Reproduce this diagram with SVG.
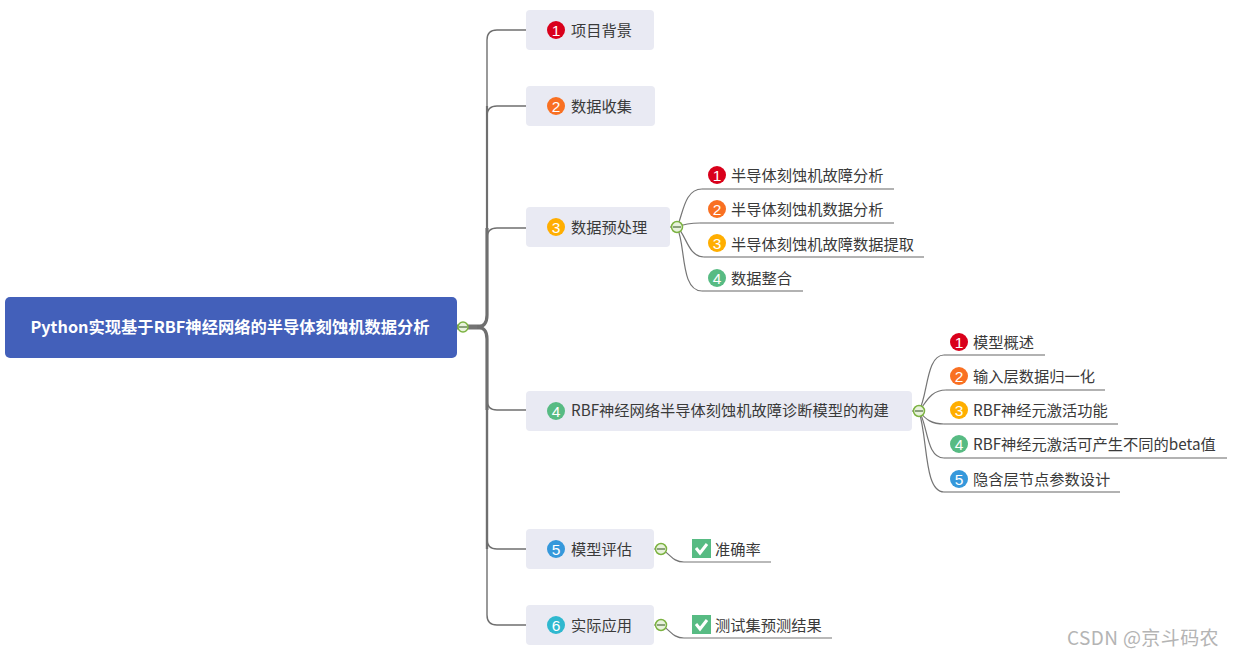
<svg xmlns="http://www.w3.org/2000/svg" width="1234" height="656" viewBox="0 0 1234 656">
<style>
text{font-family:"Noto Sans CJK SC","Noto Sans",sans-serif;font-size:15.25px;fill:#3a3a3a;dominant-baseline:central}
.box{fill:#e9eaf3}
.root{fill:#4360ba}
.rt{fill:#fff;font-weight:700;font-size:16.3px;font-family:"Noto Sans CJK SC","Noto Sans",sans-serif}
.n{fill:#fff;font-family:"Liberation Sans",sans-serif;font-size:15.5px;text-anchor:middle}
.c{fill:none;stroke:#757575;stroke-width:1.2}
.t{fill:none;stroke:#6f6f6f}
.u{fill:none;stroke:#666;stroke-width:1.1}
.k{fill:#e8f2dc;stroke:#7cb342;stroke-width:1.5}
.m{stroke:#4c6b3a;stroke-width:1.2}
.g{fill:#57bb83}
.w{fill:none;stroke:#fff;stroke-width:3}
.r1{fill:#d9001b}.r2{fill:#f97022}.r3{fill:#ffae00}.r4{fill:#57bb83}.r5{fill:#3598db}.r6{fill:#2fb8cf}
</style>
<g id="connectors">
<path d="M457 327H481" stroke="#737373" stroke-width="5" fill="none"/>
<path class="t" stroke-width="3.2" d="M477 327Q487 327 487 315V228"/>
<path class="t" stroke-width="2.2" d="M487 228V106"/>
<path class="t" stroke-width="1.4" d="M487 106V40Q487 30 497 30H526"/>
<path class="t" stroke-width="1.4" d="M487 116Q487 106 497 106H526"/>
<path class="t" stroke-width="1.4" d="M487 238Q487 228 497 228H526"/>
<path class="t" stroke-width="3.2" d="M477 327Q487 327 487 339V410"/>
<path class="t" stroke-width="2.4" d="M487 410V549"/>
<path class="t" stroke-width="1.4" d="M487 400Q487 410 497 410H526"/>
<path class="t" stroke-width="1.4" d="M487 539Q487 549 497 549H526"/>
<path class="t" stroke-width="1.4" d="M487 549V615Q487 625 497 625H526"/>
<path class="c" d="M670 227H677"/>
<path class="c" d="M677 227C683 215 684 189 702 189"/>
<path class="c" d="M677 227C684 224 690 223 700 223"/>
<path class="c" d="M677 227C686 234 688 257 704 257"/>
<path class="c" d="M677 227C686 245 680 291 702 291"/>
<path class="u" d="M702 189H894M700 223H894M704 257H924M702 291H803"/>
<path class="c" d="M912 411H919"/>
<path class="c" d="M919 411C928 395 926 355 944 355"/>
<path class="c" d="M919 411C926 403 930 390 946 390"/>
<path class="c" d="M919 411C926 420 932 424 944 424"/>
<path class="c" d="M919 411C928 425 926 458 944 458"/>
<path class="c" d="M919 411C928 440 924 492 944 492"/>
<path class="u" d="M944 355H1045M946 390H1105M944 424H1118M944 458H1227M944 492H1120"/>
<path class="c" d="M654 549H661C670 553 672 562 684 562H771"/>
<path class="c" d="M654 625H661C670 629 672 638 684 638H832"/>
</g>
<g id="root"><rect class="root" x="5" y="297" width="452" height="61" rx="5"/><text class="rt" x="230" y="325.5" text-anchor="middle">Python实现基于RBF神经网络的半导体刻蚀机数据分析</text></g>
<circle class="k" cx="463" cy="327" r="5"/><path class="m" d="M459 327H467"/>
<g id="n1"><rect class="box" x="526" y="10" width="128" height="40" rx="4"/><circle class="r1" cx="556" cy="30" r="9"/><text class="n" x="556" y="30">1</text><text x="571" y="29">项目背景</text></g>
<g id="n2"><rect class="box" x="526" y="86" width="129" height="40" rx="4"/><circle class="r2" cx="556" cy="106" r="9"/><text class="n" x="556" y="106">2</text><text x="571" y="105">数据收集</text></g>
<g id="n3"><rect class="box" x="526" y="207" width="144" height="40" rx="4"/><circle class="r3" cx="556" cy="227" r="9"/><text class="n" x="556" y="227">3</text><text x="571" y="226">数据预处理</text></g>
<g id="n4"><rect class="box" x="526" y="391" width="386" height="40" rx="4"/><circle class="r4" cx="556" cy="411" r="9"/><text class="n" x="556" y="411">4</text><text x="571" y="409">RBF神经网络半导体刻蚀机故障诊断模型的构建</text></g>
<g id="n5"><rect class="box" x="526" y="529" width="128" height="40" rx="4"/><circle class="r5" cx="556" cy="549" r="9"/><text class="n" x="556" y="549">5</text><text x="571" y="548">模型评估</text></g>
<g id="n6"><rect class="box" x="526" y="605" width="128" height="40" rx="4"/><circle class="r6" cx="556" cy="625" r="9"/><text class="n" x="556" y="625">6</text><text x="571" y="624">实际应用</text></g>
<g id="n31"><circle class="r1" cx="717" cy="175" r="9"/><text class="n" x="717" y="175">1</text><text x="731" y="174">半导体刻蚀机故障分析</text></g>
<g id="n32"><circle class="r2" cx="717" cy="209" r="9"/><text class="n" x="717" y="209">2</text><text x="731" y="208">半导体刻蚀机数据分析</text></g>
<g id="n33"><circle class="r3" cx="717" cy="243" r="9"/><text class="n" x="717" y="243">3</text><text x="731" y="243">半导体刻蚀机故障数据提取</text></g>
<g id="n34"><circle class="r4" cx="717" cy="278" r="9"/><text class="n" x="717" y="278">4</text><text x="731" y="277">数据整合</text></g>
<g id="c3"><circle class="k" cx="677" cy="227" r="5.5"/><path class="m" d="M673 227H681"/></g>
<g id="n41"><circle class="r1" cx="959" cy="342" r="9"/><text class="n" x="959" y="342">1</text><text x="973" y="341">模型概述</text></g>
<g id="n42"><circle class="r2" cx="959" cy="376" r="9"/><text class="n" x="959" y="376">2</text><text x="973" y="375">输入层数据归一化</text></g>
<g id="n43"><circle class="r3" cx="959" cy="410" r="9"/><text class="n" x="959" y="410">3</text><text x="973" y="409">RBF神经元激活功能</text></g>
<g id="n44"><circle class="r4" cx="959" cy="444" r="9"/><text class="n" x="959" y="444">4</text><text x="973" y="443">RBF神经元激活可产生不同的beta值</text></g>
<g id="n45"><circle class="r5" cx="959" cy="479" r="9"/><text class="n" x="959" y="479">5</text><text x="973" y="478">隐含层节点参数设计</text></g>
<g id="c4"><circle class="k" cx="919" cy="411" r="5.5"/><path class="m" d="M915 411H923"/></g>
<g id="n51"><rect class="g" x="692" y="539" width="19" height="19"/><path class="w" d="M696 548L700 553L707 544"/><text x="715" y="548">准确率</text></g>
<g id="c5"><circle class="k" cx="661" cy="549" r="5.5"/><path class="m" d="M657 549H665"/></g>
<g id="n61"><rect class="g" x="692" y="615" width="19" height="19"/><path class="w" d="M696 624L700 629L707 620"/><text x="715" y="624">测试集预测结果</text></g>
<g id="c6"><circle class="k" cx="661" cy="625" r="5.5"/><path class="m" d="M657 625H665"/></g>
<text x="1067" y="636" style="font-size:19px;letter-spacing:.4px;fill:#b4b4b4">CSDN @京斗码农</text>
</svg>
